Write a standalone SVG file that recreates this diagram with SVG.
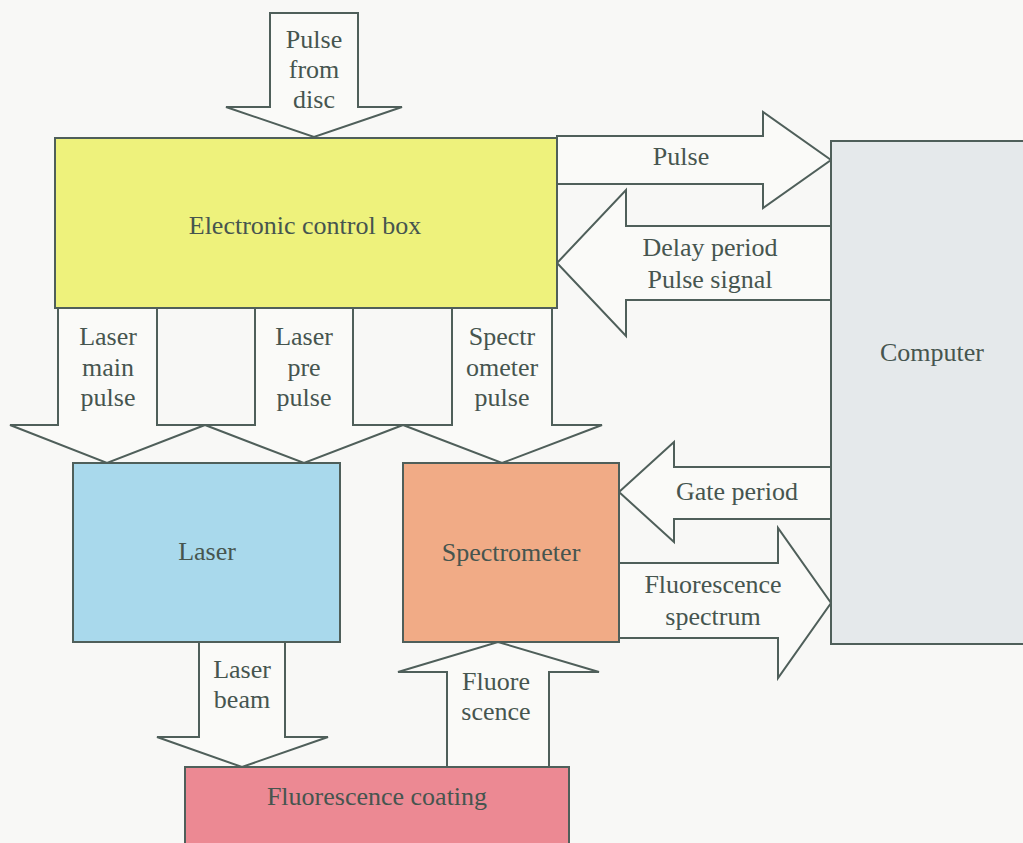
<svg xmlns="http://www.w3.org/2000/svg" width="1023" height="843" viewBox="0 0 1023 843">
  <style>
    .arrow { fill: #fafaf8; stroke: #4f5f5a; stroke-width: 2; stroke-linejoin: miter; }
    .box { stroke: #4f5f5a; stroke-width: 2; }
    text { font-family: "Liberation Serif", "Times New Roman", serif; font-size: 26px; text-anchor: middle; fill: #46554f; }
  </style>
  <rect width="1023" height="843" fill="#f8f8f6"/>

  <!-- block arrows between units -->
  <g id="connectors">
    <polygon class="arrow" points="270,13 358,13 358,107 402,107 314,137 226,107 270,107"/>
    <polygon class="arrow" points="557,136 763,136 763,112 831,160 763,208 763,184 557,184"/>
    <polygon class="arrow" points="831,226 626,226 626,190 557,263 626,336 626,300 831,300"/>
    <polygon class="arrow" points="58,308 157,308 157,425 205,425 107,463 10,425 58,425"/>
    <polygon class="arrow" points="255,308 353,308 353,425 403,425 304,463 205,425 255,425"/>
    <polygon class="arrow" points="452,308 552,308 552,425 602,425 502,463 403,425 452,425"/>
    <polygon class="arrow" points="831,467 674,467 674,442 619,492 674,542 674,519 831,519"/>
    <polygon class="arrow" points="619,563 778,563 778,528 831,603 778,678 778,638 619,638"/>
    <polygon class="arrow" points="447,767 447,672 398,672 498,642 599,672 549,672 549,767"/>
    <polygon class="arrow" points="199,642 285,642 285,737 328,737 242,767 157,737 199,737"/>

    <text x="314" y="48">Pulse</text>
    <text x="314" y="78">from</text>
    <text x="314" y="108">disc</text>
    <text x="681" y="165">Pulse</text>
    <text x="710" y="256">Delay period</text>
    <text x="710" y="288">Pulse signal</text>
    <text x="108" y="345">Laser</text>
    <text x="108" y="376">main</text>
    <text x="108" y="406">pulse</text>
    <text x="304" y="345">Laser</text>
    <text x="304" y="376">pre</text>
    <text x="304" y="406">pulse</text>
    <text x="502" y="345">Spectr</text>
    <text x="502" y="376">ometer</text>
    <text x="502" y="406">pulse</text>
    <text x="737" y="500">Gate period</text>
    <text x="713" y="593">Fluorescence</text>
    <text x="713" y="625">spectrum</text>
    <text x="242" y="678">Laser</text>
    <text x="242" y="708">beam</text>
    <text x="496" y="690">Fluore</text>
    <text x="496" y="720">scence</text>
  </g>

  <g id="control-box">
    <rect class="box" x="55" y="138" width="502" height="170" fill="#eef27c"/>
    <text x="305" y="234" fill="#4a5722">Electronic control box</text>
  </g>

  <g id="computer">
    <rect class="box" x="831" y="141" width="200" height="503" fill="#e5e9eb"/>
    <text x="932" y="361" fill="#4d5858">Computer</text>
  </g>

  <g id="laser">
    <rect class="box" x="73" y="463" width="267" height="179" fill="#a9d9ec"/>
    <text x="207" y="560" fill="#3f5560">Laser</text>
  </g>

  <g id="spectrometer">
    <rect class="box" x="403" y="463" width="216" height="179" fill="#f1ab86"/>
    <text x="511" y="561" fill="#6a4636">Spectrometer</text>
  </g>

  <g id="coating">
    <rect class="box" x="185" y="767" width="384" height="90" fill="#ec8993"/>
    <text x="377" y="805" fill="#662a30">Fluorescence coating</text>
  </g>
</svg>
